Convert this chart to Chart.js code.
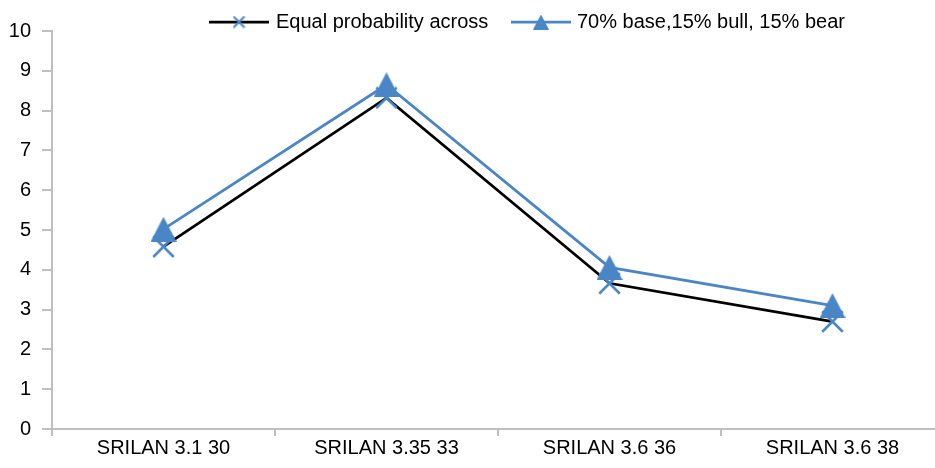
<!DOCTYPE html>
<html>
<head>
<meta charset="utf-8">
<script src="https://cdn.jsdelivr.net/npm/chart.js@4/dist/chart.umd.min.js"></script>
<style>
  html, body { margin: 0; padding: 0; background: #ffffff; overflow: hidden; }
  #c { display: block; }
</style>
</head>
<body>
<canvas id="c" width="945" height="468" style="width:945px;height:468px"></canvas>
<script>
const categories = ["SRILAN 3.1 30", "SRILAN 3.35 33", "SRILAN 3.6 36", "SRILAN 3.6 38"];
const seriesNames = ["Equal probability across", "70% base,15% bull, 15% bear"];
const equalProb = [4.58, 8.32, 3.66, 2.70];
const weighted = [5.02, 8.65, 4.06, 3.10];
const yTicks = [0, 1, 2, 3, 4, 5, 6, 7, 8, 9, 10];

const BLUE = '#4a86c5';
const FONT = '"Liberation Sans", Arial, sans-serif';

function makeCross(size, color, lw) {
  const cv = document.createElement('canvas');
  cv.width = size; cv.height = size;
  const g = cv.getContext('2d');
  g.strokeStyle = color; g.lineWidth = lw; g.lineCap = 'butt';
  const p = lw / 2;
  g.beginPath();
  g.moveTo(p, p); g.lineTo(size - p, size - p);
  g.moveTo(size - p, p); g.lineTo(p, size - p);
  g.stroke();
  return cv;
}
function makeTriangle(w, h, color) {
  const cv = document.createElement('canvas');
  cv.width = w; cv.height = h;
  const g = cv.getContext('2d');
  g.fillStyle = color;
  g.beginPath();
  g.moveTo(w / 2, 0); g.lineTo(w, h); g.lineTo(0, h); g.closePath();
  g.fill();
  return cv;
}
const crossImg = makeCross(23, BLUE, 2.5);
const triImg = makeTriangle(26, 25, BLUE);
const crossSmall = makeCross(13, BLUE, 2);
const triSmall = makeTriangle(16, 15, BLUE);

const legendPlugin = {
  id: 'customLegend',
  afterDraw(chart) {
    const ctx = chart.ctx;
    ctx.save();
    const y = 22;
    const items = [
      { x0: 209, x1: 269, color: '#000000', img: crossSmall, tx: 276, text: seriesNames[0] },
      { x0: 511, x1: 571, color: BLUE, img: triSmall, tx: 577, text: seriesNames[1] }
    ];
    items.forEach(it => {
      ctx.strokeStyle = it.color;
      ctx.lineWidth = 2.75;
      ctx.beginPath(); ctx.moveTo(it.x0, y); ctx.lineTo(it.x1, y); ctx.stroke();
      const cx = (it.x0 + it.x1) / 2;
      ctx.drawImage(it.img, cx - it.img.width / 2, y - it.img.height / 2);
      ctx.fillStyle = '#000000';
      ctx.font = '20px ' + FONT;
      ctx.textAlign = 'left';
      ctx.textBaseline = 'middle';
      ctx.fillText(it.text, it.tx, y);
    });
    ctx.restore();
  }
};

new Chart(document.getElementById('c'), {
  type: 'line',
  data: {
    labels: categories,
    datasets: [
      {
        label: seriesNames[0],
        data: equalProb,
        borderColor: '#000000',
        borderWidth: 2.75,
        pointStyle: crossImg,
        pointRadius: 11,
        pointHoverRadius: 11,
        tension: 0,
        fill: false,
        clip: false,
        order: 2
      },
      {
        label: seriesNames[1],
        data: weighted,
        borderColor: BLUE,
        borderWidth: 2.75,
        pointStyle: triImg,
        pointRadius: 12,
        pointHoverRadius: 12,
        tension: 0,
        fill: false,
        clip: false,
        order: 1
      }
    ]
  },
  options: {
    responsive: false,
    maintainAspectRatio: false,
    animation: false,
    devicePixelRatio: 1,
    layout: { autoPadding: false, padding: { top: 31, right: 1, left: 0, bottom: 0 } },
    plugins: {
      legend: { display: false },
      tooltip: { enabled: false }
    },
    scales: {
      x: {
        type: 'category',
        offset: true,
        grid: {
          display: true,
          offset: true,
          drawOnChartArea: false,
          drawTicks: true,
          tickLength: 7,
          color: '#bfbfbf',
          lineWidth: 2
        },
        border: { display: true, color: '#bfbfbf', width: 2 },
        ticks: {
          color: '#000000',
          font: { family: FONT, size: 20 },
          padding: 0,
          maxRotation: 0,
          autoSkip: false
        },
        afterFit(scale) { scale.height = 39; scale.paddingLeft = 0; scale.paddingRight = 0; }
      },
      y: {
        min: 0,
        max: 10,
        afterBuildTicks(scale) { scale.ticks = yTicks.map(v => ({ value: v })); },
        grid: {
          display: true,
          drawOnChartArea: false,
          drawTicks: true,
          tickLength: 10,
          color: '#bfbfbf',
          lineWidth: 2
        },
        border: { display: true, color: '#bfbfbf', width: 2 },
        ticks: {
          color: '#000000',
          font: { family: FONT, size: 20 },
          padding: 11
        },
        afterFit(scale) { scale.width = 52; scale.paddingLeft = 0; scale.paddingRight = 0; }
      }
    }
  },
  plugins: [legendPlugin]
});
</script>
</body>
</html>
